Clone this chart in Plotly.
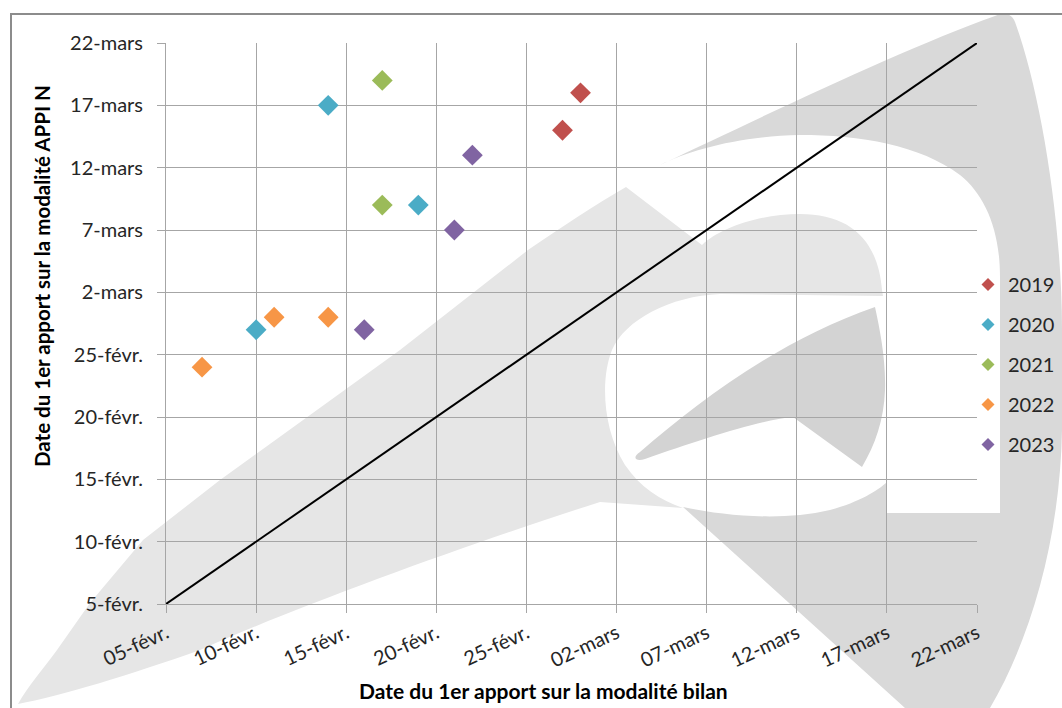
import base64
import plotly.graph_objects as go

# ---------------- data (reference year 2021 used for all seasons) ----------------
years = ["2019", "2020", "2021", "2022", "2023"]
colors = ["#c0504d", "#4bacc6", "#9bbb59", "#f79646", "#8064a2"]

x_2019 = ["2021-02-28", "2021-02-27"]
y_2019 = ["2021-03-18", "2021-03-15"]
x_2020 = ["2021-02-14", "2021-02-19", "2021-02-10"]
y_2020 = ["2021-03-17", "2021-03-09", "2021-02-27"]
x_2021 = ["2021-02-17", "2021-02-17"]
y_2021 = ["2021-03-19", "2021-03-09"]
x_2022 = ["2021-02-07", "2021-02-11", "2021-02-14"]
y_2022 = ["2021-02-24", "2021-02-28", "2021-02-28"]
x_2023 = ["2021-02-22", "2021-02-21", "2021-02-16"]
y_2023 = ["2021-03-13", "2021-03-07", "2021-02-27"]

diag_x = ["2021-02-05", "2021-03-22"]
diag_y = ["2021-02-05", "2021-03-22"]

tick_vals = ["2021-02-05", "2021-02-10", "2021-02-15", "2021-02-20", "2021-02-25",
             "2021-03-02", "2021-03-07", "2021-03-12", "2021-03-17", "2021-03-22"]
x_tick_text = ["05-févr.", "10-févr.", "15-févr.", "20-févr.", "25-févr.",
               "02-mars", "07-mars", "12-mars", "17-mars", "22-mars"]
y_tick_text = ["5-févr.", "10-févr.", "15-févr.", "20-févr.", "25-févr.",
               "2-mars", "7-mars", "12-mars", "17-mars", "22-mars"]

x_title = "Date du 1er apport sur la modalité bilan"
y_title = "Date du 1er apport sur la modalité APPI N"

series_x = [x_2019, x_2020, x_2021, x_2022, x_2023]
series_y = [y_2019, y_2020, y_2021, y_2022, y_2023]

# ---------------- layout geometry ----------------
W, H = 1062, 708
ML, MR, MT, MB = 166, 85, 43, 104
PW, PH = W - ML - MR, H - MT - MB

FONT = "Lato, 'Liberation Sans', sans-serif"

# ---------------- background watermark (decorative logo) ----------------
svg = f'''<svg xmlns="http://www.w3.org/2000/svg" width="{W}" height="{H}" viewBox="0 0 {W} {H}">
<path fill="#d9d9d9" d="M660,165 C760,118 900,50 995,16 C1005,12 1012,14 1015,22
 C1040,90 1062,220 1062,330 L1062,430 C1060,540 1030,640 990,708 L905,708 L683,507
 C720,515 780,522 830,510 C860,502 878,490 886,483 L886,513 L1000,513 L1000,277
 C1000,230 985,195 960,175 C920,145 860,135 800,135 C740,136 690,150 660,165 Z"/>
<path fill="#e6e6e6" d="M18,704 C28,686 44,668 57,650 L90,603 L143,540 L220,480 L400,350 L528,250
 C560,228 595,205 626,187
 L702,245 C720,228 760,214 800,214 C850,214 878,240 882,290 L883,296 L720,294
 C670,296 625,320 612,350 C600,380 603,430 625,465 C640,487 660,500 683,508
 L600,502 C480,540 300,605 200,650 C130,675 60,696 18,704 Z"/>
<path fill="#d3d3d3" d="M875,307 C880,330 886,360 885,390 C884,420 875,445 862,467 L793,417
 C760,420 700,440 645,459 C635,462 632,457 640,452 C700,400 780,340 875,307 Z"/>
<rect x="11" y="14" width="1100" height="760" fill="none" stroke="#8c8c8c" stroke-width="2"/>
</svg>'''
uri = "data:image/svg+xml;base64," + base64.b64encode(svg.encode("utf-8")).decode("ascii")

fig = go.Figure()

# diagonal y = x
fig.add_trace(go.Scatter(x=diag_x, y=diag_y, mode="lines",
                         line=dict(color="#000000", width=2),
                         showlegend=False, hoverinfo="skip"))

for yr, col, xs, ys in zip(years, colors, series_x, series_y):
    fig.add_trace(go.Scatter(x=xs, y=ys, mode="markers", name=yr,
                             marker=dict(symbol="diamond", size=16, color=col),
                             showlegend=False, legendgroup=yr))
    # legend entry with small symbol
    fig.add_trace(go.Scatter(x=[None], y=[None], mode="markers", name=yr,
                             marker=dict(symbol="diamond", size=10, color=col),
                             showlegend=True, legendgroup=yr))

axis_common = dict(
    type="date",
    range=[tick_vals[0], tick_vals[-1]],
    tickmode="array",
    tickvals=tick_vals,
    showgrid=True,
    gridcolor="#a6a6a6",
    gridwidth=1,
    showline=True,
    linecolor="#a6a6a6",
    linewidth=1,
    ticks="outside",
    ticklen=8,
    tickcolor="#a6a6a6",
    zeroline=False,
    tickfont=dict(family=FONT, size=20, color="#262626"),
    fixedrange=True,
)

fig.update_xaxes(**axis_common, ticktext=x_tick_text, tickangle=-25, ticklabelstandoff=1, mirror=False)
fig.update_yaxes(**axis_common, ticktext=y_tick_text, ticklabelstandoff=10)

fig.add_layout_image(dict(source=uri, xref="paper", yref="paper",
                          x=-ML / PW, y=1 + MT / PH, sizex=W / PW, sizey=H / PH,
                          xanchor="left", yanchor="top", sizing="stretch",
                          layer="below", opacity=1))

fig.add_annotation(text=x_title, xref="paper", yref="paper",
                   x=(543 - ML) / PW, y=(PH + MT - 690) / PH,
                   xanchor="center", yanchor="middle", showarrow=False,
                   font=dict(family=FONT, size=21, color="#000000", weight="bold"))
fig.add_annotation(text=y_title, xref="paper", yref="paper",
                   x=(42 - ML) / PW, y=(PH + MT - 276) / PH, textangle=-90,
                   xanchor="center", yanchor="middle", showarrow=False,
                   font=dict(family=FONT, size=20.5, color="#000000", weight="bold"))

fig.update_layout(
    width=W, height=H,
    margin=dict(l=ML, r=MR, t=MT, b=MB, autoexpand=False),
    paper_bgcolor="#ffffff",
    plot_bgcolor="rgba(0,0,0,0)",
    font=dict(family=FONT, size=20, color="#262626"),
    legend=dict(x=(968 - ML) / PW, y=(PH + MT - 265) / PH, xanchor="left", yanchor="top",
                bgcolor="rgba(0,0,0,0)", font=dict(family=FONT, size=20, color="#262626"),
                tracegroupgap=11, itemwidth=30),
    showlegend=True,
)

fig.write_html("out.html", config={"displayModeBar": False},
               post_script="document.body.style.margin='0px';")
